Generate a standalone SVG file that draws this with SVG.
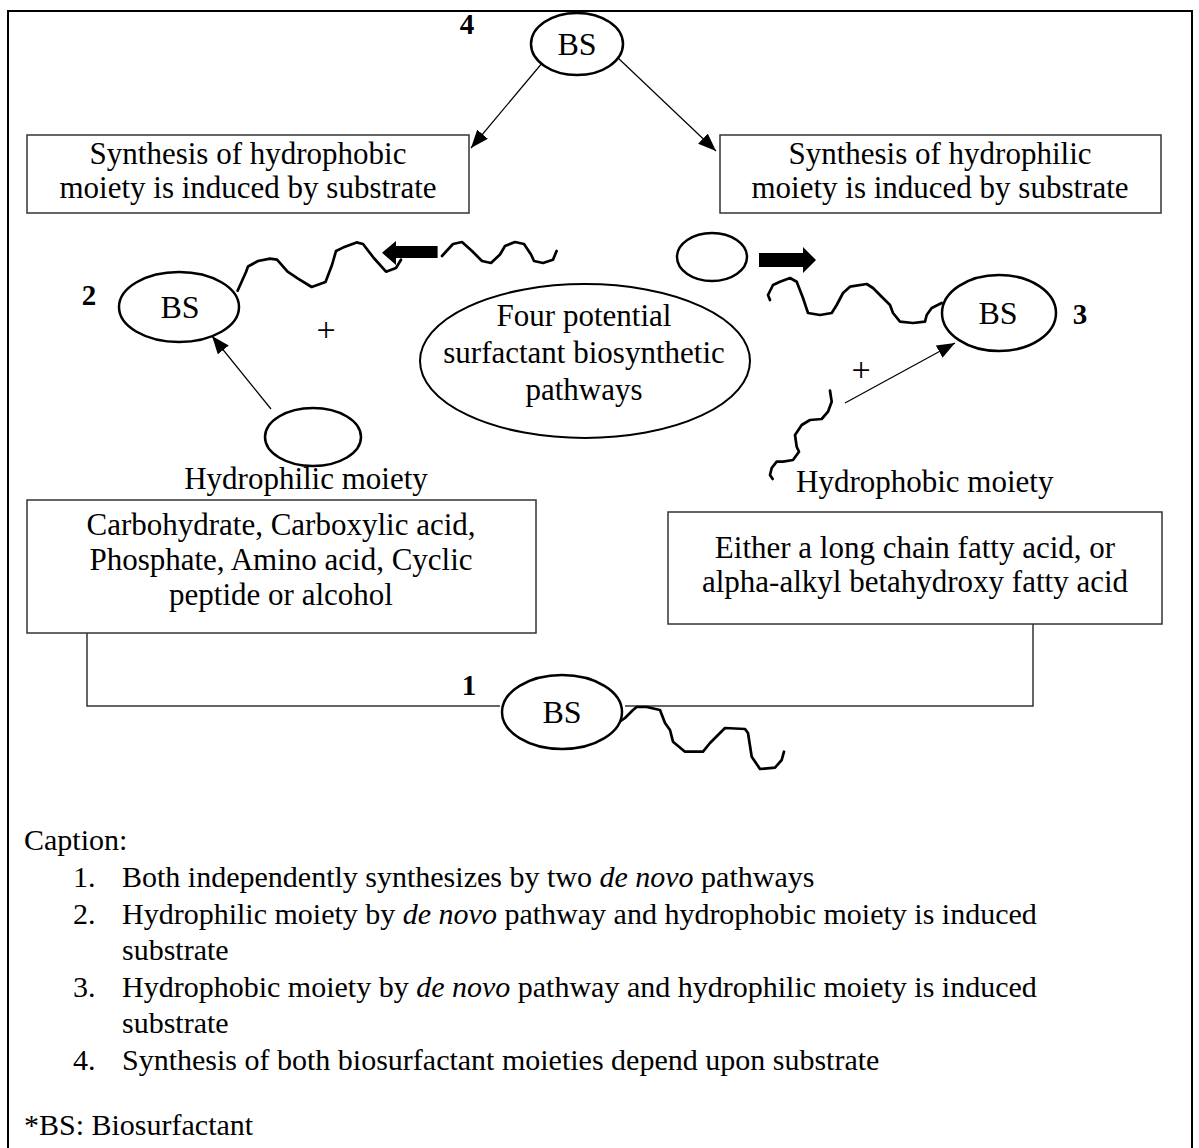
<svg xmlns="http://www.w3.org/2000/svg" width="1199" height="1148" viewBox="0 0 1199 1148">
<defs>
<marker id="ah" markerWidth="20" markerHeight="14" refX="18" refY="7" orient="auto" markerUnits="userSpaceOnUse">
<path d="M0,0 L18,7 L0,14 Z" fill="#000"/>
</marker>
<style>
text{font-family:"Liberation Serif","Times New Roman",serif;font-size:31px;fill:#000}
.c{text-anchor:middle}
.b{font-weight:bold;font-size:29px}
.bs{font-size:32px}
.plus{font-size:34px}
.cap{font-size:30px}
.box{fill:#fff;stroke:#333;stroke-width:1.5}
.ell{fill:#fff;stroke:#000;stroke-width:2.5}
.chain{fill:none;stroke:#000;stroke-width:2.7;stroke-linejoin:round;stroke-linecap:round}
.arr{stroke:#000;stroke-width:1.2;fill:none;marker-end:url(#ah)}
.ln{stroke:#333;stroke-width:1.5;fill:none}
</style>
</defs>
<rect x="0" y="0" width="1199" height="1148" fill="#fff"/>
<rect x="8" y="11" width="1184" height="1160" fill="none" stroke="#000" stroke-width="2"/>

<g id="connectors">
<line class="arr" x1="543" y1="62" x2="471" y2="148"/>
<line class="arr" x1="617" y1="57" x2="716" y2="151"/>
<line class="arr" x1="271" y1="409" x2="212" y2="336"/>
<line class="arr" x1="845" y1="403" x2="955" y2="343"/>
<polyline class="ln" points="87,633 87,706 500,706"/>
<polyline class="ln" points="625,706 1033,706 1033,624"/>
<path d="M437.6,246 L396,246 L396,241 L382,252.8 L396,265 L396,258 L437.6,258 Z" fill="#000"/>
<path d="M759,253 L803,253 L803,247 L816,260 L803,273 L803,267 L759,267 Z" fill="#000"/>
</g>

<g id="node-bs4">
<ellipse class="ell" cx="577" cy="44" rx="46" ry="31"/>
<text class="c bs" x="577" y="55">BS</text>
<text class="b c" x="467" y="34">4</text>
</g>

<g id="node-hydrophobic-induced">
<rect class="box" x="27" y="135" width="442" height="78"/>
<text class="c" x="248" y="164">Synthesis of hydrophobic</text>
<text class="c" x="248" y="198">moiety is induced by substrate</text>
</g>

<g id="node-hydrophilic-induced">
<rect class="box" x="720" y="135" width="441" height="78"/>
<text class="c" x="940" y="164">Synthesis of hydrophilic</text>
<text class="c" x="940" y="198">moiety is induced by substrate</text>
</g>

<g id="node-bs2">
<path class="chain" d="M237.6,290.7 L246,272 L248,266.5 L258,261 L270,258.6 L277,259.7 L287.6,271.7 L298,278.6 L311.7,287 L325.5,282 L332,265 L336,251 L343,247.6 L356.5,242.4 L363,244 L373.8,258 L386,271.7 L396,268 L401,259.7"/>
<path class="chain" d="M442,256 L453,244 L462,242 L472,251 L482,261 L491,263 L500,254.5 L505,246 L515,242 L524,244 L531,254.5 L534,261 L543,263 L553,259.7 L556.6,251"/>
<ellipse class="ell" cx="179" cy="307" rx="60" ry="35"/>
<text class="c bs" x="180" y="318">BS</text>
<text class="b c" x="89" y="305">2</text>
<text class="c plus" x="326" y="341">+</text>
</g>

<g id="node-hydrophilic-moiety">
<ellipse class="ell" cx="313" cy="437" rx="48" ry="29"/>
<text class="c" x="306" y="489">Hydrophilic moiety</text>
</g>

<g id="node-center">
<ellipse cx="585" cy="361" rx="165" ry="77" fill="#fff" stroke="#000" stroke-width="2"/>
<text class="c" x="584" y="326">Four potential</text>
<text class="c" x="584" y="363">surfactant biosynthetic</text>
<text class="c" x="584" y="400">pathways</text>
</g>

<g id="node-bs3">
<ellipse class="ell" cx="712" cy="257" rx="35" ry="24"/>
<path class="chain" d="M770,300 L768,295 L773,285 L780,281.7 L790,278 L796.7,281.7 L803,298 L808,313 L820,315 L831.7,313 L836.7,305 L843,293 L850,286.7 L866.7,284 L873,288 L881.7,296.7 L890,305 L893,313 L900,321.7 L913,323 L925,321.7 L926.7,315 L931.7,308 L941.7,303"/>
<ellipse class="ell" cx="999" cy="313" rx="57" ry="38"/>
<text class="c bs" x="998" y="324">BS</text>
<text class="b c" x="1080" y="324">3</text>
<text class="c plus" x="861" y="381">+</text>
</g>

<g id="node-hydrophobic-moiety">
<path class="chain" d="M830,390.7 L831.7,401.7 L828,411.7 L821.7,419 L810,420 L801.7,425 L795,435 L796.7,446.7 L799,451.7 L793,460 L783,461.7 L776.7,461.7 L771.7,468 L770,475 L772.7,479"/>
<text x="796" y="492">Hydrophobic moiety</text>
</g>

<g id="node-hydrophilic-list">
<rect class="box" x="27" y="500" width="509" height="133"/>
<text class="c" x="281" y="535">Carbohydrate, Carboxylic acid,</text>
<text class="c" x="281" y="570">Phosphate, Amino acid, Cyclic</text>
<text class="c" x="281" y="605">peptide or alcohol</text>
</g>

<g id="node-hydrophobic-list">
<rect class="box" x="668" y="512" width="494" height="112"/>
<text class="c" x="915" y="558">Either a long chain fatty acid, or</text>
<text class="c" x="915" y="592">alpha-alkyl betahydroxy fatty acid</text>
</g>

<g id="node-bs1">
<path class="chain" d="M615,725 L625,718 L633,710 L636.7,707 L646.7,707 L660,710 L665,723 L670,730 L673,741.7 L685,751.7 L703,751.7 L710,743 L718,735 L725,728 L745,729 L748,733 L751.7,756.7 L760,769 L775,767.7 L781.7,760 L784,751.7"/>
<ellipse class="ell" cx="562" cy="712" rx="60" ry="37"/>
<text class="c bs" x="562" y="723">BS</text>
<text class="b c" x="469" y="695">1</text>
</g>

<g id="caption">
<text class="cap" x="24" y="850">Caption:</text>
<text class="cap" x="73" y="887">1.</text>
<text class="cap" x="122" y="887">Both independently synthesizes by two <tspan font-style="italic">de novo</tspan> pathways</text>
<text class="cap" x="73" y="924">2.</text>
<text class="cap" x="122" y="924">Hydrophilic moiety by <tspan font-style="italic">de novo</tspan> pathway and hydrophobic moiety is induced</text>
<text class="cap" x="122" y="960">substrate</text>
<text class="cap" x="73" y="997">3.</text>
<text class="cap" x="122" y="997">Hydrophobic moiety by <tspan font-style="italic">de novo</tspan> pathway and hydrophilic moiety is induced</text>
<text class="cap" x="122" y="1033">substrate</text>
<text class="cap" x="73" y="1070">4.</text>
<text class="cap" x="122" y="1070">Synthesis of both biosurfactant moieties depend upon substrate</text>
<text class="cap" x="24" y="1135">*BS: Biosurfactant</text>
</g>
</svg>
